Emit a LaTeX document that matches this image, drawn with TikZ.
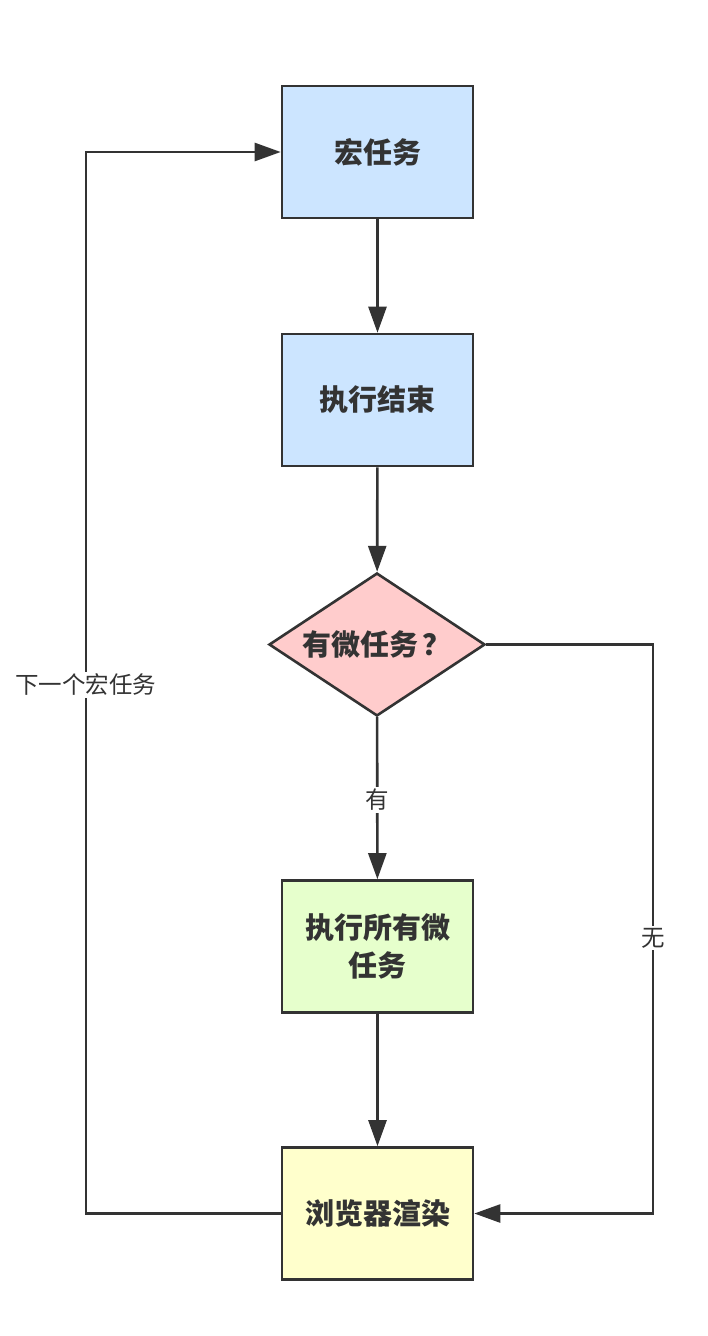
\documentclass[tikz,border=0pt]{standalone}
\usepackage{fontspec}
\newfontfamily\cjk{Noto Sans CJK SC}
\usetikzlibrary{shapes.geometric,arrows.meta}
\definecolor{edge}{HTML}{333333}
\definecolor{bluef}{HTML}{CCE5FF}
\definecolor{pinkf}{HTML}{FFCCCC}
\definecolor{greenf}{HTML}{E6FFCC}
\definecolor{yellowf}{HTML}{FFFFCC}
\tikzset{
  box/.style={draw=edge, line width=2.6pt, minimum width=191pt, minimum height=132pt, inner sep=0pt, text=edge,
    font=\cjk\bfseries\fontsize{29pt}{38pt}\selectfont, align=center, text width=185pt},
  dec/.style={diamond, draw=edge, line width=2.6pt, fill=pinkf, minimum width=216pt, minimum height=143pt, inner sep=0pt, aspect=1.5, text=edge,
    font=\cjk\bfseries\fontsize{29pt}{38pt}\selectfont},
  conn/.style={draw=edge, line width=2.6pt, -{Triangle[length=26pt,width=18pt]}},
  lbl/.style={fill=white, text=edge, inner sep=2pt, font=\cjk\fontsize{23.5pt}{28pt}\selectfont}
}
\begin{document}
\begin{tikzpicture}[x=1pt,y=-1pt]
\useasboundingbox[fill=white] (0,0) rectangle (708,1336);
\node[box, fill=bluef] (macro) at (377.5,152) {宏任务};
\node[box, fill=bluef] (done) at (377.5,400) {执行结束};
\node[dec] (has) at (377,644.5) {有微任务\hspace{5pt}？};
\node[box, fill=greenf] (runall) at (377.5,946.5) {执行所有微\\任务};
\node[box, fill=yellowf] (render) at (377.5,1213.5) {浏览器渲染};
\coordinate (rtop) at (653,644.5);
\coordinate (rbot) at (653,1213.5);
\coordinate (lbot) at (86,1213.5);
\coordinate (ltop) at (86,152);
\draw[conn] (macro) -- (done);
\draw[conn] (done) -- (has);
\draw[conn] (has) -- node[lbl, pos=0.51] (yes) {有} (runall);
\draw[conn] (runall) -- (render);
\draw[conn] (has.east) -- (rtop) -- node[lbl, pos=0.516] (no) {无} (rbot) -- (render.east);
\draw[conn] (render.west) -- (lbot) -- node[lbl, pos=0.498] (next) {下一个宏任务} (ltop) -- (macro.west);
\end{tikzpicture}
\end{document}
